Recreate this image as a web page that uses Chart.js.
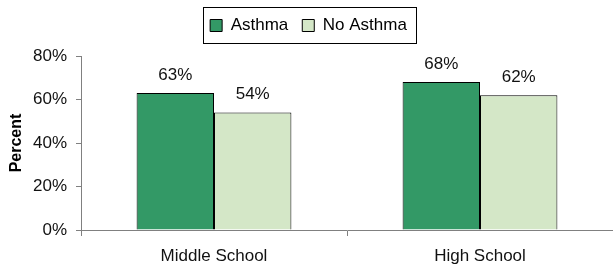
<!DOCTYPE html>
<html>
<head>
<meta charset="utf-8">
<script src="https://cdn.jsdelivr.net/npm/chart.js@4/dist/chart.umd.min.js"></script>
<style>
  html, body { margin: 0; padding: 0; background: #fff; }
  #wrap { width: 613px; height: 267px; position: relative; }
</style>
</head>
<body>
<div id="wrap"><canvas id="chart"></canvas></div>
<script>
// chart data
const categories = ['Middle School', 'High School'];
const asthma = [63, 68];
const noAsthma = [54, 62];
const yTicks = [0, 20, 40, 60, 80];

const FONT = "'Liberation Sans', Arial, sans-serif";

// extra room under the legend, and a box drawn around it
const legendBorder = {
    id: 'legendBorder',
    afterInit(chart) {
        const lg = chart.legend;
        if (!lg || lg._padded) return;
        const fit = lg.fit.bind(lg);
        lg.fit = function () { fit(); this.height += 12; };
        lg._padded = true;
    },
    afterDraw(chart) {
        const lg = chart.legend;
        if (!lg || !lg.legendHitBoxes.length) return;
        const boxes = lg.legendHitBoxes;
        const first = boxes[0], last = boxes[boxes.length - 1];
        const ctx = chart.ctx;
        ctx.save();
        ctx.strokeStyle = '#000';
        ctx.lineWidth = 1;
        const x0 = Math.round(first.left - 7) + 0.5;
        const x1 = Math.round(last.left + last.width + 9) + 0.5;
        const y0 = Math.round(first.top - 10) + 0.5;
        const y1 = Math.round(first.top + first.height + 9) + 0.5;
        ctx.strokeRect(x0, y0, x1 - x0, y1 - y0);
        ctx.restore();
    }
};

// percent labels above each bar
const barLabels = {
    id: 'barLabels',
    afterDatasetsDraw(chart) {
        const ctx = chart.ctx;
        ctx.save();
        ctx.font = '17px ' + FONT;
        ctx.fillStyle = '#111';
        ctx.textAlign = 'center';
        ctx.textBaseline = 'middle';
        chart.data.datasets.forEach((ds, i) => {
            chart.getDatasetMeta(i).data.forEach((bar, j) => {
                ctx.fillText(ds.data[j] + '%', bar.x, bar.y - 18);
            });
        });
        ctx.restore();
    }
};

new Chart(document.getElementById('chart'), {
    type: 'bar',
    data: {
        labels: categories,
        datasets: [{
            label: 'Asthma',
            data: asthma,
            backgroundColor: '#339966',
            borderColor: '#000',
            borderWidth: 1
        }, {
            label: 'No Asthma',
            data: noAsthma,
            backgroundColor: '#d4e7c7',
            borderColor: '#000',
            borderWidth: 1
        }]
    },
    options: {
        responsive: true,
        maintainAspectRatio: false,
        animation: false,
        layout: { padding: { top: 3, right: -4, left: 0, bottom: 1 } },
        datasets: {
            bar: { barPercentage: 1, categoryPercentage: 0.582 }
        },
        scales: {
            x: {
                afterFit(scale) { scale.height = 36; },
                grid: { display: true, drawOnChartArea: false, drawTicks: true, tickLength: 6, color: '#808080', offset: true },
                border: { color: '#808080' },
                ticks: { color: '#111', font: { family: FONT, size: 17 }, padding: 10 }
            },
            y: {
                min: 0,
                max: 80,
                afterBuildTicks(scale) {
                    scale.ticks = yTicks.map(v => ({ value: v }));
                },
                afterFit(scale) { scale.width = 81; },
                grid: { display: true, drawOnChartArea: false, drawTicks: true, tickLength: 5, color: '#808080' },
                border: { color: '#808080' },
                ticks: {
                    color: '#111',
                    font: { family: FONT, size: 17 },
                    padding: 9,
                    callback: v => v + '%'
                },
                title: {
                    display: true,
                    text: 'Percent',
                    color: '#000',
                    font: { family: FONT, size: 16, weight: 'bold' },
                    padding: { top: 7, bottom: 0 }
                }
            }
        },
        plugins: {
            legend: {
                position: 'top',
                labels: {
                    color: '#000',
                    font: { family: FONT, size: 17 },
                    boxWidth: 12,
                    boxHeight: 12,
                    padding: 14
                }
            },
            tooltip: { enabled: false }
        }
    },
    plugins: [legendBorder, barLabels]
});
</script>
</body>
</html>
